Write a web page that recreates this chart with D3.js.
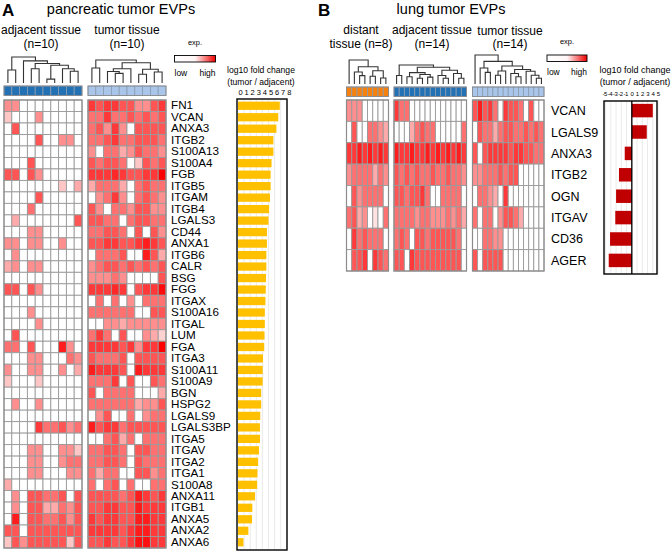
<!DOCTYPE html>
<html><head><meta charset="utf-8">
<script src="https://cdn.jsdelivr.net/npm/d3@7"></script>
<style>body{margin:0;background:#fff}svg text{font-family:"Liberation Sans",Arial,sans-serif;fill:#000}</style>
</head><body><svg id="c" width="672" height="553"></svg>
<script>
// ---------- DATA ----------
const genesA = ["FN1","VCAN","ANXA3","ITGB2","S100A13","S100A4","FGB","ITGB5","ITGAM","ITGB4","LGALS3","CD44","ANXA1","ITGB6","CALR","BSG","FGG","ITGAX","S100A16","ITGAL","LUM","FGA","ITGA3","S100A11","S100A9","BGN","HSPG2","LGALS9","LGALS3BP","ITGA5","ITGAV","ITGA2","ITGA1","S100A8","ANXA11","ITGB1","ANXA5","ANXA2","ANXA6"];
const adjacentA = [
[2,2,0,0,0,0,0,0,0,0],[1,0,0,0,2,0,0,0,0,0],[0,3,0,0,0,0,0,0,0,0],[0,0,0,0,3,0,0,2,2,0],
[0,0,0,0,0,0,0,0,0,0],[0,0,0,3,0,0,0,0,0,0],[3,3,0,3,2,0,0,0,0,0],[0,0,0,0,0,0,0,1,0,1.5],
[0,0,0,0,3,0,0,0,0,0],[0,0,0,2.5,0,0,0,0,0,0],[0,1.5,0,0,0,0,0,0,0,3],[0,0,0,2,2,0,0,0,0,0],
[2,2,0,2,2,0,0,2,0,0],[0,2,0,0,0,0,0,0,0,0],[1.5,2,0,2,2,0,0,0,0,0],[0,0,0,0,0,0,0,0,0,0],
[3,3,0,3,2,0,0,0,0,0],[0,0,0,0,0,0,0,0,0,0],[0,0,0,2,0,0,0,0,0,0],[0,0,0,0,2,0,0,0,0,0],
[0,3,0,0,0,0,0,0,0,0],[2.5,2.5,0,3,0,0,0,4,2,0],[0,0,0,2,2,0,0,0,2.5,2],[2,0,0,2,2,0,0,2,0,1.5],
[1,0,0,0,1,0,0,0,0,0],[0,0,0,0,0,0,0,0,0,0],[0,2,0,0,2,0,0,0,0,0],[0,0,0,0,0,0,0,0,0,0],
[0,0,0,0,3.5,2.5,2.5,3,2,2.5],[0,0,0,0,0,0,0,0,0,0],[0,0,0,2,2,0,0,2,2,1],[0,0,0,2,2,0,0,2,2.5,2.5],
[0,0,0,2,2,0,0,0,2,2],[1.5,0,0,0,0,0,0,0,0,0],[0,2,0,3,3,2.5,2.5,3,0,3],[0,2,0,3,3,1.5,1.5,2.5,2,3],
[0,4,0,3,3,2.5,2.5,3,2,3],[3,3,0,3,3,3,3,3,3,3],[1,3,2,3,3,3,3,3,1,3]];
const tumorA = [
[3.5,3,3.5,3.5,3,3,2,2,3,3.5],[2.5,2.5,3.5,2.5,2.5,3,2.5,3,2.5,3],[2.5,3,2,3.5,2,0,3,3,3,3],[2.5,2.5,3,3.5,2.5,2.5,3,3,3,2.5],
[2,0,2.5,2.5,1.5,2,3,2.5,2.5,2],[3,2.5,3,3,2.5,0,1,3,2.5,3],[3.5,3.5,3.5,3.8,3.5,3,3,3.5,3.5,4.5],[1.5,2.5,2.5,2.5,1.5,0,2.5,3,2.5,2.5],
[0,2,2.5,3.5,2,0,2.5,3,2.5,2],[3,2,0,2.5,2.5,2,3,3,2,2],[3,3,2.5,2.5,0,2.5,3,3,2.5,2.5],[2.5,2.5,3,3,2.5,0,3,0,3,2],
[3,3,3.5,3.5,3,3,3.5,4,3.5,3],[0,2.5,2.5,2.5,3,0,0,4,3,1.5],[2,2.5,3,3,2.5,3,2.5,3,2.5,3],[2,2,2,2.5,2,0,0,0,0,3],
[3.5,3.5,3.5,3.8,3.5,0,3,3.5,3.5,4.3],[0,2.5,0,2.5,0,2,0,2.5,2.5,2.5],[2.5,2.5,2.5,2.5,2.5,2.5,0,0,3,3],[0,0,2,2,1.5,2,2,2,2,2],
[2.5,3.5,2.5,0,3,0,0,2,1.5,0.8],[3.5,3.5,3.5,3.5,3,3.5,2,3.5,3.5,4.5],[3,2.5,2.5,2.5,3,0,3,3,3,3],[4,3.5,3.5,3.5,3,0,4,3.5,3.5,3.5],
[2.5,2.5,2.5,3.5,0,3,0,0,3,2.5],[3,0,2.5,2.5,2.5,2.5,0,0,0,1.5],[2.5,2.5,2.5,2.5,2.5,2.5,1.5,2,2,3],[0,2,3,0,0,2.5,0,2,2.5,2.5],
[4,3,3.5,3.5,2.5,3,3,3,3,3],[0,0,2.5,3,1.5,2.5,0,2.5,2.5,2.5],[2.5,2.5,3,3,2.5,0,3,3,2.5,2.5],[2.5,2.5,3,3,2.5,0,3,2.5,2.5,2.5],
[2.5,1.5,2.5,2.5,0,0,3,3,2,2.5],[2.5,0,2.5,3,0,2.5,0,0,2.5,2.5],[3,3,3,3,2.5,3,4,3.5,3,3.5],[3,3,3.5,3.5,3,3,4,3.5,3.5,3.5],
[3.5,3,3.5,3.5,3,3,4,4,3.5,3.5],[3.5,3.5,3.5,3.5,3,3.5,4,4,3.5,3.5],[3,3,3.5,3,3,3.5,4.2,4.2,3.5,3.5]];
const foldA = [6.85,6.6,6.3,5.8,5.8,5.5,5.35,5.35,5.25,5.1,5.0,4.75,4.75,4.65,4.65,4.6,4.55,4.5,4.4,4.4,4.35,4.3,4.1,4.05,4.05,3.8,3.8,3.65,3.6,3.6,3.45,3.3,3.2,3.15,2.8,2.35,2.3,1.7,0.9];
const foldTicksA = [0,1,2,3,4,5,6,7,8];

const genesB = ["VCAN","LGALS9","ANXA3","ITGB2","OGN","ITGAV","CD36","AGER"];
const distantB = [
[2,2,2,0,0,0,0,0],[0,3,0,0,2.5,2.5,2,1.5],[3.5,3.5,4,3.5,4,3.5,4,3.5],[2,2.5,2.5,2.5,2.5,1.5,2.5,2],
[0,3,2,2.5,2.5,2.5,2.5,0],[2.5,3,1.5,2,0,0.5,0,2.5],[0,3.5,2.5,3,2.5,2.5,2.5,0],[0,3,3,3.5,0,3.5,3,2.5]];
const adjacentB = [
[3.5,2.5,2.5,0,0,0,0,0,0,0,0,0,0,0],[0,0,0,1.5,2.5,3,2.5,2.5,0,0,0,0,0,2.5],
[4,3.5,3.5,4,3.5,3.5,4,3.5,4,3.5,4,3.5,4,3.5],[3,2.5,3,2.5,3,2.5,2.5,3,2.5,2.5,3,2.5,2.5,2],
[3,3,2.5,3,3,3.5,2.5,0,0,2.5,2.5,2.5,2.5,0],[2.5,2.5,2.5,2.5,2,2.5,2.5,2,2,2,2.5,2,2.5,1.5],
[2.5,3,2.5,0,3,3,2.5,3,3,3,3,3,2.5,0],[3,3,0,3.5,3,3,3,3,3,3,3,3,3,0]];
const tumorB = [
[3,4,3,3.5,2.5,0,3.5,3,3,2.5,0,3,0,0],[0,3,2.5,2.5,1.5,2.5,3,3,2.5,2.5,3,2.5,3,2.5],
[3,0,3,3.5,3.5,3.5,3.5,3,3.5,3.5,3,3,2.5,2.5],[2,2,2.5,2.5,2.5,3,2.5,3,3,0,0,0,0,0],
[0,2.5,2.5,2,1.5,0,3.5,0,0,0,0,0,0,0],[2.5,0,2.5,2.5,0,2,3,3,2.5,1.5,0,0,0,0],
[0,0,2.5,2.5,2,2,0,0,0,0,0,0,0,0],[3,0,3,3,3,3,0,0,0,0,0,0,0,0]];
const foldB = [4.0,2.85,-1.35,-2.45,-3.0,-3.15,-4.15,-4.4];
const foldTicksB = [-5,-4,-3,-2,-1,0,1,2,3,4,5];

// dendrograms: [height, child, child] ; leaves = column index
const treeAdjA = [1.0,[0.5,0,1],[0.85,2,[0.75,[0.55,3,4],[0.68,[0.15,5,6],[0.55,7,[0.45,8,9]]]]]];
const treeTumA = [1.0,[0.65,0,1],[0.88,[0.62,[0.5,2,[0.42,3,4]],5],[0.6,[0.38,6,7],[0.48,8,9]]]];
const treeDistB = [1.0,0,[0.72,[0.5,1,[0.35,2,3]],[0.55,[0.32,4,5],[0.25,6,7]]]];
const treeAdjB = [1.0,[0.45,0,1],[0.88,[0.6,[0.38,2,3],[0.5,[0.3,4,5],[0.36,6,7]]],[0.72,[0.45,8,[0.3,9,10]],[0.55,11,[0.3,12,13]]]]];
const treeTumB = [1.0,0,[0.78,[0.55,1,[0.4,2,3]],[0.62,[0.45,[0.3,4,5],6],[0.5,[0.36,7,[0.25,8,9]],[0.44,10,[0.3,11,[0.2,12,13]]]]]]];

// ---------- DRAWING ----------
const svg = d3.select("#c");
const heat = d3.scaleLinear().domain([0,4.5]).range(["#ffffff","#ff0000"]).clamp(true);

function txt(x,y,s,size,anchor,weight){
  return svg.append("text").attr("x",x).attr("y",y).attr("font-size",size)
    .attr("text-anchor",anchor||"start").attr("font-weight",weight||"normal").text(s);
}

function heatBlock(data, genes, x0, x1, y0, y1, stripColor, tree, dTop, stripY){
  const n = data[0].length;
  const xs = d3.scaleBand().domain(d3.range(n)).range([x0,x1]);
  const ys = d3.scaleBand().domain(genes).range([y0,y1]);
  const g = svg.append("g");
  data.forEach((row,i)=>{
    g.selectAll(null).data(row).join("rect")
      .attr("x",(d,j)=>xs(j)).attr("y",ys(genes[i]))
      .attr("width",xs.bandwidth()).attr("height",ys.bandwidth())
      .attr("fill",d=>heat(d)).attr("stroke","#9a9a9a").attr("stroke-width",0.9);
  });
  g.append("rect").attr("x",x0).attr("y",y0).attr("width",x1-x0).attr("height",y1-y0)
    .attr("fill","none").attr("stroke","#8c8c8c").attr("stroke-width",1.2);
  // color strip
  svg.append("g").selectAll("rect").data(d3.range(n)).join("rect")
    .attr("x",j=>xs(j)).attr("y",stripY).attr("width",xs.bandwidth()).attr("height",9.5)
    .attr("fill",stripColor).attr("stroke","#8a9bb0").attr("stroke-width",0.8);
  svg.append("rect").attr("x",x0).attr("y",stripY).attr("width",x1-x0).attr("height",9.5)
    .attr("fill","none").attr("stroke","#888").attr("stroke-width",0.8);
  // dendrogram
  const root = d3.hierarchy(tree, d => Array.isArray(d) ? d.slice(1) : null);
  const leafY = stripY - 3;
  const hs = d3.scaleLinear().domain([0,1]).range([leafY, dTop]);
  root.eachAfter(nd=>{
    if(!nd.children){ nd.px = xs(nd.data)+xs.bandwidth()/2; nd.py = leafY; }
    else { nd.px = (nd.children[0].px + nd.children[1].px)/2; nd.py = hs(nd.data[0]); }
  });
  const paths = [];
  root.each(nd=>{ if(nd.children){
    const a = nd.children[0], b = nd.children[1];
    paths.push(`M${a.px},${a.py}V${nd.py}H${b.px}V${b.py}`);
  }});
  svg.append("g").selectAll("path").data(paths).join("path").attr("d",d=>d)
    .attr("fill","none").attr("stroke","#333").attr("stroke-width",1.1);
}

// ----- Panel A -----
txt(2,16,"A",17,"start","bold");
txt(121,14,"pancreatic tumor EVPs",14.5,"middle");
txt(41,34,"adjacent tissue",12,"middle"); txt(41,48,"(n=10)",12,"middle");
txt(127,34,"tumor tissue",12,"middle"); txt(127,48,"(n=10)",12,"middle");
heatBlock(adjacentA, genesA, 4, 82, 100, 548, "#2371b5", treeAdjA, 57, 86);
heatBlock(tumorA, genesA, 88, 166, 100, 548, "#a9c6ea", treeTumA, 60, 86);
const yA = d3.scaleBand().domain(genesA).range([100,548]);
svg.append("g").attr("transform","translate(171,0) scale(1.17,1)")
  .selectAll("text").data(genesA).join("text")
  .attr("x",0).attr("y",d=>yA(d)+yA.bandwidth()/2+3.7).attr("font-size",10).text(d=>d);

// legend
const defs = svg.append("defs");
const grad = defs.append("linearGradient").attr("id","lg");
grad.append("stop").attr("offset","0").attr("stop-color","#ffffff");
grad.append("stop").attr("offset","0.5").attr("stop-color","#fff6f6");
grad.append("stop").attr("offset","1").attr("stop-color","#f00000");
function legend(x,y,w){
  svg.append("rect").attr("x",x).attr("y",y).attr("width",w).attr("height",6.5)
    .attr("fill","url(#lg)").attr("stroke","#000").attr("stroke-width",0.9);
  txt(x+w/2,y-11,"exp.",7.5,"middle");
  txt(x,y+20,"low",8.5,"start");
  txt(x+w,y+20,"high",8.5,"end");
}
legend(174.5,55.5,41);

// bar chart A
const bxA = d3.scaleLinear().domain([0,8]).range([238,286.8]);
const byA = d3.scaleBand().domain(genesA).range([100,548]).paddingInner(0.28).paddingOuter(0.14);
svg.append("g").selectAll("line").data(foldTicksA.slice(1)).join("line")
  .attr("x1",d=>bxA(d)).attr("x2",d=>bxA(d)).attr("y1",100).attr("y2",549)
  .attr("stroke","#e4e4e4").attr("stroke-width",0.8);
svg.append("g").selectAll("rect").data(foldA).join("rect")
  .attr("x",bxA(0)).attr("y",(d,i)=>byA(genesA[i])).attr("width",d=>bxA(d)-bxA(0))
  .attr("height",byA.bandwidth()).attr("fill","#ffc000");
svg.append("rect").attr("x",237).attr("y",99).attr("width",50).attr("height",451)
  .attr("fill","none").attr("stroke","#000").attr("stroke-width",1.4);
svg.append("g").selectAll("text").data(foldTicksA).join("text")
  .attr("x",d=>bxA(d)+2.5).attr("y",95).attr("font-size",7.5).attr("text-anchor","middle").text(d=>d);
txt(261,73,"log10 fold change",8.6,"middle");
txt(261,85,"(tumor / adjacent)",8.6,"middle");

// ----- Panel B -----
txt(318,16,"B",17,"start","bold");
txt(451,14,"lung tumor EVPs",14.5,"middle");
txt(361,34,"distant",12,"middle"); txt(361,48,"tissue (n=8)",12,"middle");
txt(432,34,"adjacent tissue",12,"middle"); txt(432,48,"(n=14)",12,"middle");
txt(510,35,"tumor tissue",12,"middle"); txt(510,48,"(n=14)",12,"middle");
heatBlock(distantB, genesB, 346.5, 388.5, 100, 271, "#f6820d", treeDistB, 60, 87);
heatBlock(adjacentB, genesB, 394, 466.5, 100, 271, "#2371b5", treeAdjB, 65, 87);
heatBlock(tumorB, genesB, 472.5, 544, 100, 271, "#a9c6ea", treeTumB, 55, 87);
const yB = d3.scaleBand().domain(genesB).range([100,271]);
svg.append("g").selectAll("text").data(genesB).join("text")
  .attr("x",551).attr("y",d=>yB(d)+yB.bandwidth()/2+4.5).attr("font-size",12.5).text(d=>d);
legend(547,55,40);

const bxB = d3.scaleLinear().domain([-5.3,4.8]).range([604,657]);
const byB = d3.scaleBand().domain(genesB).range([100,271]).paddingInner(0.37).paddingOuter(0.18);
svg.append("g").selectAll("line").data(foldTicksB).join("line")
  .attr("x1",d=>bxB(d)).attr("x2",d=>bxB(d)).attr("y1",101).attr("y2",274)
  .attr("stroke","#e4e4e4").attr("stroke-width",0.8);
svg.append("g").selectAll("rect").data(foldB).join("rect")
  .attr("x",d=>bxB(Math.min(0,d))).attr("y",(d,i)=>byB(genesB[i]))
  .attr("width",d=>Math.abs(bxB(d)-bxB(0))).attr("height",byB.bandwidth()).attr("fill","#c00000");
svg.append("line").attr("x1",bxB(0)).attr("x2",bxB(0)).attr("y1",101).attr("y2",274)
  .attr("stroke","#000").attr("stroke-width",1.3);
svg.append("rect").attr("x",604).attr("y",101).attr("width",53).attr("height",173)
  .attr("fill","none").attr("stroke","#000").attr("stroke-width",1.4);
svg.append("g").selectAll("text").data(foldTicksB).join("text")
  .attr("x",d=>bxB(d)+ (d<0?-0.8:0.3)).attr("y",96).attr("font-size",6).attr("letter-spacing",-0.3)
  .attr("text-anchor","middle").text(d=>d);
txt(635,73,"log10 fold change",9,"middle");
txt(635,85,"(tumor / adjacent)",9,"middle");
</script></body></html>
